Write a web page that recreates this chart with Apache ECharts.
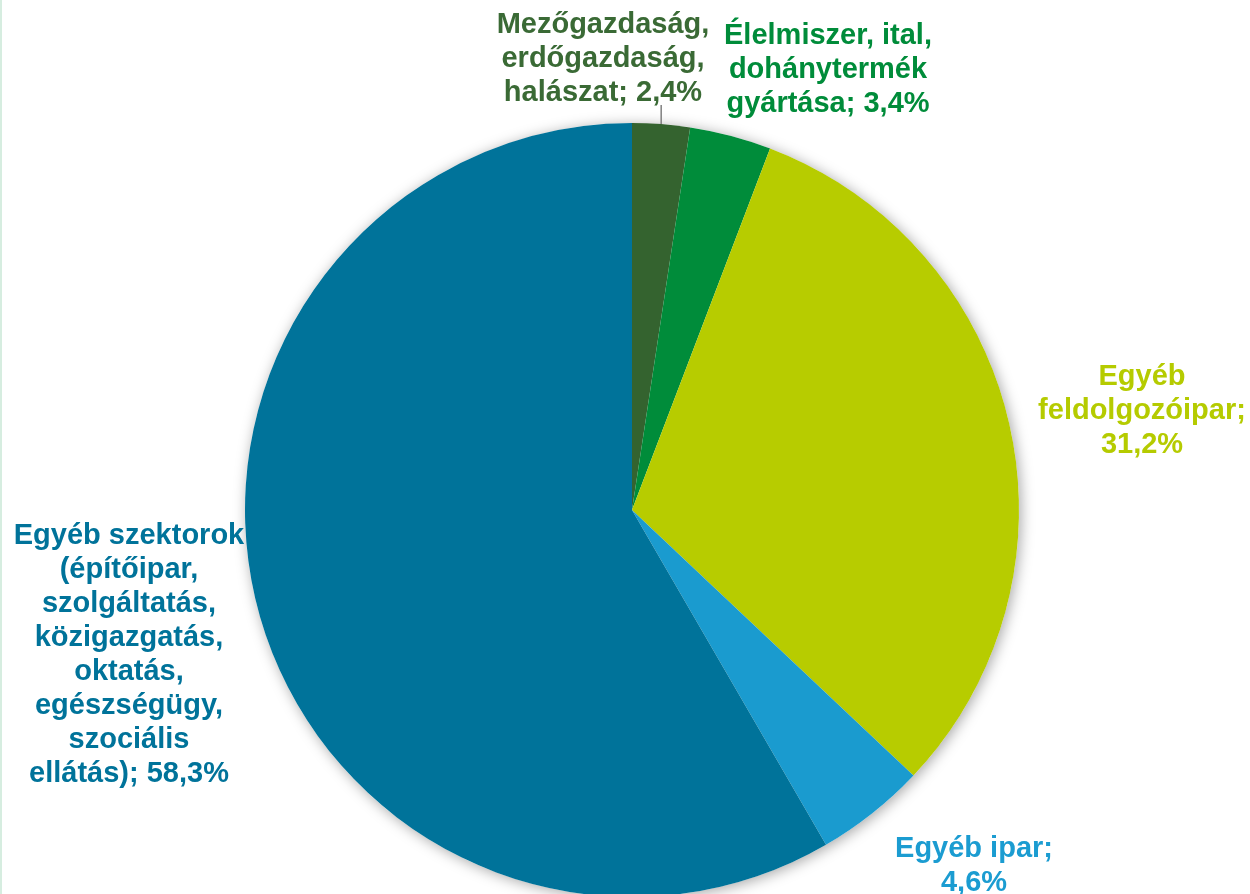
<!DOCTYPE html>
<html>
<head>
<meta charset="utf-8">
<script src="https://cdn.jsdelivr.net/npm/echarts@6/dist/echarts.min.js"></script>
<style>html,body{margin:0;padding:0;background:#fff;}#c{width:1250px;height:894px;}</style>
</head>
<body>
<div id="c"></div>
<script>
// Data
var categories = [
  'Mezőgazdaság, erdőgazdaság, halászat',
  'Élelmiszer, ital, dohánytermék gyártása',
  'Egyéb feldolgozóipar',
  'Egyéb ipar',
  'Egyéb szektorok (építőipar, szolgáltatás, közigazgatás, oktatás, egészségügy, szociális ellátás)'
];
var values = [2.4, 3.4, 31.2, 4.6, 58.3];
var labelTexts = [
  'Mezőgazdaság,\nerdőgazdaság,\nhalászat',
  'Élelmiszer, ital,\ndohánytermék\ngyártása',
  'Egyéb\nfeldolgozóipar;\n',
  'Egyéb ipar;\n',
  'Egyéb szektorok\n(építőipar,\nszolgáltatás,\nközigazgatás,\noktatás,\negészségügy,\nszociális\nellátás)'
];
var colors = ['#34632F', '#008C3A', '#B7CC00', '#1A9BCF', '#00739A'];
var textColors = ['#3A6A35', '#008C3A', '#B5CB00', '#1B9CD1', '#00739A'];
// label layout (centre of each label block)
var labelPos = [[603, 59], [828, 70], [1142, 411], [974, 866], [129, 655]];

function fmt(v) { return String(v.toFixed(1)).replace('.', ','); }
function labelText(i) {
  var t = labelTexts[i];
  if (t.slice(-1) === '\n') return t + fmt(values[i]) + '%';
  return t + '; ' + fmt(values[i]) + '%';
}

var chart = echarts.init(document.getElementById('c'), null, {renderer: 'canvas'});
var data = categories.map(function (c, i) {
  return {
    name: c,
    value: values[i],
    itemStyle: {color: colors[i]},
    label: {color: textColors[i], formatter: labelText(i)},
    labelLine: {show: i === 0, length: 18, length2: 0, lineStyle: {color: '#7f7f7f', width: 1.5}}
  };
});

chart.setOption({
  animation: false,
  backgroundColor: '#ffffff',
  graphic: [{
    type: 'rect', left: 0, top: 0, shape: {width: 2, height: 894},
    style: {fill: '#d6ede0'}, silent: true
  }],
  series: [
    {
      type: 'pie',
      silent: true,
      center: [632, 510],
      radius: 387,
      z: 1,
      label: {show: false},
      labelLine: {show: false},
      itemStyle: {color: '#ffffff', shadowBlur: 14, shadowColor: 'rgba(0,0,0,0.35)', shadowOffsetX: 2, shadowOffsetY: 2},
      data: [{value: 1, name: 'bg'}]
    },
    {
      type: 'pie',
      center: [632, 510],
      radius: 387,
      startAngle: 90,
      clockwise: true,
      z: 2,
      avoidLabelOverlap: false,
      itemStyle: {borderWidth: 0},
      label: {
        show: true,
        position: 'outside',
        fontFamily: 'Liberation Sans, Arial, sans-serif',
        fontWeight: 'bold',
        fontSize: 29,
        lineHeight: 34,
        align: 'center'
      },
      labelLayout: function (params) {
        var i = params.dataIndex;
        var res = {
          x: labelPos[i][0],
          y: labelPos[i][1],
          align: 'center',
          verticalAlign: 'middle'
        };
        if (i === 0 && params.labelLinePoints) {
          var p0 = params.labelLinePoints[0];
          res.labelLinePoints = [[p0[0], p0[1]], [p0[0], p0[1] - 19]];
        }
        return res;
      },
      data: data
    }
  ]
});
</script>
</body>
</html>
